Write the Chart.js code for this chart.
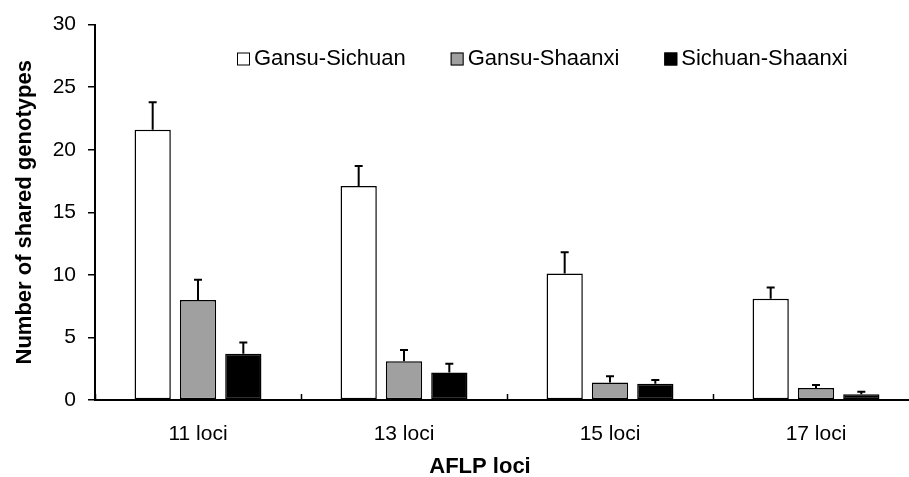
<!DOCTYPE html>
<html>
<head>
<meta charset="utf-8">
<script src="https://cdn.jsdelivr.net/npm/chart.js@4"></script>
<style>
  html, body { margin: 0; padding: 0; background: #ffffff; overflow: hidden; }
  #wrap { width: 925px; height: 477px; }
</style>
</head>
<body>
<div id="wrap"><canvas id="chart-shared" width="925" height="477"></canvas></div>
<script>
// categories and series
const lociLabels = ['11 loci', '13 loci', '15 loci', '17 loci'];
const gansuSichuan = [21.6, 17.1, 10.1, 8.1];
const gansuSichuanErr = [2.2, 1.6, 1.7, 0.9];
const gansuShaanxi = [8.0, 3.1, 1.4, 0.95];
const gansuShaanxiErr = [1.6, 0.9, 0.5, 0.25];
const sichuanShaanxi = [3.7, 2.2, 1.3, 0.45];
const sichuanShaanxiErr = [0.9, 0.7, 0.3, 0.2];
const yTicks = [0, 5, 10, 15, 20, 25, 30];

const FONT = "'Liberation Sans', Arial, sans-serif";

// upper error bars, positioned from bar elements + y scale
const errorBars = {
    id: 'errorBars',
    afterDatasetsDraw(chart) {
        const ctx = chart.ctx;
        const y = chart.scales.y;
        ctx.save();
        ctx.strokeStyle = '#000';
        ctx.lineWidth = 2;
        chart.data.datasets.forEach((ds, d) => {
            const meta = chart.getDatasetMeta(d);
            meta.data.forEach((bar, i) => {
                const top = y.getPixelForValue(ds.data[i] + ds.errors[i]);
                ctx.beginPath();
                ctx.moveTo(bar.x, bar.y);
                ctx.lineTo(bar.x, top);
                ctx.moveTo(bar.x - 4, top);
                ctx.lineTo(bar.x + 4, top);
                ctx.stroke();
            });
        });
        ctx.restore();
    }
};

// category boundary ticks pointing up into the plot + x title
const xDecor = {
    id: 'xDecor',
    afterDraw(chart) {
        const ctx = chart.ctx;
        const x = chart.scales.x;
        const area = chart.chartArea;
        ctx.save();
        ctx.strokeStyle = '#000';
        ctx.lineWidth = 1.5;
        for (let i = 0; i <= lociLabels.length; i++) {
            const px = Math.round(x.getPixelForValue(i - 0.5)) + 0.5;
            ctx.beginPath();
            ctx.moveTo(px, area.bottom);
            ctx.lineTo(px, area.bottom - 6);
            ctx.stroke();
        }
        ctx.fillStyle = '#000';
        ctx.font = 'bold 22px ' + FONT;
        ctx.textAlign = 'center';
        ctx.textBaseline = 'middle';
        ctx.fillText('AFLP loci', (area.left + area.right) / 2 - 27, 467);
        ctx.restore();
    }
};

// legend drawn inside the plot area, in one row
const innerLegend = {
    id: 'innerLegend',
    afterDraw(chart) {
        const ctx = chart.ctx;
        const area = chart.chartArea;
        let cx = area.left + 142;
        const cy = 59;
        ctx.save();
        ctx.font = '22px ' + FONT;
        ctx.textBaseline = 'middle';
        chart.data.datasets.forEach(ds => {
            ctx.fillStyle = ds.backgroundColor;
            ctx.fillRect(cx, cy - 6.5, 13, 13);
            ctx.strokeStyle = '#000';
            ctx.lineWidth = 1;
            ctx.strokeRect(cx + 0.5, cy - 6, 12, 12);
            ctx.fillStyle = '#000';
            ctx.fillText(ds.label, cx + 17, cy);
            cx += 17 + ctx.measureText(ds.label).width + 45;
        });
        ctx.restore();
    }
};

function series(label, data, errors, color) {
    return {
        label: label,
        data: data,
        errors: errors,
        backgroundColor: color,
        borderColor: '#000',
        borderWidth: 1.5,
        borderSkipped: false,
        categoryPercentage: 0.66,
        barPercentage: 0.8
    };
}

new Chart(document.getElementById('chart-shared'), {
    type: 'bar',
    data: {
        labels: lociLabels,
        datasets: [
            series('Gansu-Sichuan', gansuSichuan, gansuSichuanErr, '#ffffff'),
            series('Gansu-Shaanxi', gansuShaanxi, gansuShaanxiErr, '#a0a0a0'),
            series('Sichuan-Shaanxi', sichuanShaanxi, sichuanShaanxiErr, '#000000')
        ]
    },
    options: {
        responsive: false,
        animation: false,
        devicePixelRatio: 1,
        layout: { padding: { left: 12, top: 22, right: 6, bottom: 0 } },
        plugins: {
            legend: { display: false },
            tooltip: { enabled: false }
        },
        scales: {
            x: {
                grid: { display: false },
                border: { display: true, color: '#000', width: 2 },
                ticks: {
                    color: '#000',
                    padding: 14,
                    font: { family: FONT, size: 21 }
                },
                afterFit: s => { s.height = 77; }
            },
            y: {
                min: 0,
                max: 30,
                afterBuildTicks: s => { s.ticks = yTicks.map(v => ({ value: v })); },
                grid: {
                    drawOnChartArea: false,
                    drawTicks: true,
                    tickLength: 7,
                    color: '#000',
                    lineWidth: 1.5
                },
                border: { display: true, color: '#000', width: 2 },
                ticks: {
                    color: '#000',
                    padding: 12,
                    font: { family: FONT, size: 21 }
                },
                title: {
                    display: true,
                    text: 'Number of shared genotypes',
                    color: '#000',
                    padding: 0,
                    font: { family: FONT, size: 22, weight: 'bold' }
                },
                afterFit: s => { s.width = 83; }
            }
        }
    },
    plugins: [errorBars, xDecor, innerLegend]
});
</script>
</body>
</html>
